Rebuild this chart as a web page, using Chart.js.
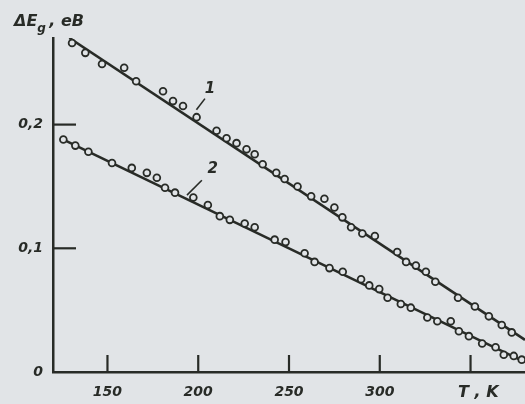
<!DOCTYPE html>
<html>
<head>
<meta charset="utf-8">
<script src="https://cdn.jsdelivr.net/npm/chart.js@4"></script>
<style>
html, body { margin: 0; padding: 0; background: #e1e4e7; }
</style>
</head>
<body>
<canvas id="myChart" width="525" height="404"></canvas>
<script>
// curve 1: measured points
const temps1 = [130.5, 137.8, 147, 159.2, 165.8, 180.6, 186.1, 191.6, 199.1, 210.1, 215.6, 221.1, 226.6, 231.1, 235.5,
    243, 247.6, 254.7, 262.2, 269.5, 275, 279.4, 284.2, 290.4, 297.3, 309.6, 314.5, 319.9, 325.4, 330.6,
    343.1, 352.4, 360.1, 367.2, 372.7];
const gap1 = [0.266, 0.258, 0.249, 0.246, 0.235, 0.227, 0.219, 0.215, 0.206, 0.195, 0.189, 0.185, 0.180, 0.176, 0.168,
    0.161, 0.156, 0.150, 0.142, 0.140, 0.133, 0.125, 0.117, 0.112, 0.110, 0.097, 0.089, 0.086, 0.081, 0.073,
    0.060, 0.053, 0.045, 0.038, 0.032];
// curve 2: measured points
const temps2 = [125.7, 132.3, 139.5, 152.5, 163.4, 171.7, 177.2, 181.7, 187.2, 197.3, 205.3, 211.9, 217.4, 225.6, 231.1,
    242.1, 248.1, 258.6, 264.1, 272.3, 279.6, 289.7, 294.2, 299.7, 304.3, 311.6, 317.1, 326.2, 331.7, 339.1,
    343.6, 349.1, 356.4, 363.8, 368.3, 373.8, 378.2];
const gap2 = [0.188, 0.183, 0.178, 0.169, 0.165, 0.161, 0.157, 0.149, 0.145, 0.141, 0.135, 0.126, 0.123, 0.120, 0.117,
    0.107, 0.105, 0.096, 0.089, 0.084, 0.081, 0.075, 0.070, 0.067, 0.060, 0.055, 0.052, 0.044, 0.041, 0.041,
    0.033, 0.029, 0.023, 0.020, 0.014, 0.013, 0.010];
// straight fits drawn through the points
const fitT1 = [129, 380];
const fitE1 = [0.270, 0.026];
const fitT2 = [124, 380];
const fitE2 = [0.189, 0.008];
// axes
const xTicks = [150, 200, 250, 300, 350];
const xTickLabels = ['150', '200', '250', '300', ''];
const yTicks = [0, 0.1, 0.2];
const yTickLabels = ['0', '0,1', '0,2'];
// curve numbers: [label, leader start T, leader start E, leader end T, leader end E, text T, text E]
const curveLabels = [
    ['1', 199, 0.212, 203.7, 0.221, 206.5, 0.229],
    ['2', 193.8, 0.143, 202, 0.155, 208, 0.164],
];

const ink = '#282b27';
const paper = '#e1e4e7';
const font = 'DejaVu Sans';

function toPoints(xs, ys) {
    return xs.map((x, i) => ({ x: x, y: ys[i] }));
}

const decorations = {
    id: 'decorations',
    afterDatasetsDraw(chart) {
        const ctx = chart.ctx;
        const x = chart.scales.x;
        const y = chart.scales.y;
        const area = chart.chartArea;
        ctx.save();
        ctx.strokeStyle = ink;
        ctx.fillStyle = ink;
        ctx.lineWidth = 2.2;
        // inward tick marks
        xTicks.forEach(v => {
            const px = x.getPixelForValue(v);
            ctx.beginPath();
            ctx.moveTo(px, area.bottom);
            ctx.lineTo(px, area.bottom - 17);
            ctx.stroke();
        });
        yTicks.slice(1).forEach(v => {
            const py = y.getPixelForValue(v);
            ctx.beginPath();
            ctx.moveTo(area.left, py);
            ctx.lineTo(area.left + 23, py);
            ctx.stroke();
        });
        // curve numbers with leaders
        ctx.lineWidth = 1.6;
        ctx.font = 'italic bold 15px "' + font + '"';
        ctx.textAlign = 'center';
        ctx.textBaseline = 'middle';
        curveLabels.forEach(l => {
            ctx.beginPath();
            ctx.moveTo(x.getPixelForValue(l[1]), y.getPixelForValue(l[2]));
            ctx.lineTo(x.getPixelForValue(l[3]), y.getPixelForValue(l[4]));
            ctx.stroke();
            ctx.fillText(l[0], x.getPixelForValue(l[5]), y.getPixelForValue(l[6]));
        });
        // axis titles
        ctx.textAlign = 'left';
        ctx.textBaseline = 'alphabetic';
        ctx.font = 'italic bold 16px "' + font + '"';
        ctx.fillText('\u0394E', 14, 26);
        const w = ctx.measureText('\u0394E').width;
        ctx.font = 'italic bold 12px "' + font + '"';
        ctx.fillText('g', 14 + w, 32);
        ctx.font = 'italic bold 16px "' + font + '"';
        ctx.fillText(', eB', 14 + w + 12, 26);
        ctx.fillText('T , K', 458, 397);
        ctx.restore();
    }
};

const ctx = document.getElementById('myChart').getContext('2d');
const myChart = new Chart(ctx, {
    type: 'scatter',
    data: {
        datasets: [{
            data: toPoints(temps1, gap1),
            pointRadius: 3.4,
            pointBorderWidth: 1.8,
            pointBorderColor: ink,
            pointBackgroundColor: paper,
            order: 0,
        }, {
            data: toPoints(temps2, gap2),
            pointRadius: 3.4,
            pointBorderWidth: 1.8,
            pointBorderColor: ink,
            pointBackgroundColor: paper,
            order: 0,
        }, {
            type: 'line',
            data: toPoints(fitT1, fitE1),
            borderColor: ink,
            borderWidth: 2.6,
            pointRadius: 0,
            order: 1,
        }, {
            type: 'line',
            data: toPoints(fitT2, fitE2),
            borderColor: ink,
            borderWidth: 2.6,
            pointRadius: 0,
            order: 1,
        }],
    },
    options: {
        responsive: false,
        animation: false,
        layout: { autoPadding: false, padding: { top: 38, right: 0, left: 0, bottom: 0 } },
        scales: {
            x: {
                type: 'linear',
                min: 120,
                max: 380,
                afterBuildTicks: scale => { scale.ticks = xTicks.map(v => ({ value: v })); },
                afterFit: scale => {
                    scale.height = 32;
                    scale.paddingLeft = 0;
                    scale.paddingRight = 0;
                },
                grid: { display: false, drawTicks: false },
                border: { display: true, color: ink, width: 2.5 },
                ticks: {
                    padding: 12,
                    color: ink,
                    font: { family: font, size: 14, style: 'italic', weight: 'bold' },
                    callback: (val, index) => xTickLabels[index],
                    maxRotation: 0,
                },
            },
            y: {
                type: 'linear',
                min: 0,
                max: 0.27,
                afterBuildTicks: scale => { scale.ticks = yTicks.map(v => ({ value: v })); },
                afterFit: scale => { scale.width = 53; },
                grid: { display: false, drawTicks: false },
                border: { display: true, color: ink, width: 2.5 },
                ticks: {
                    padding: 10,
                    color: ink,
                    font: { family: font, size: 14, style: 'italic', weight: 'bold' },
                    callback: (val, index) => yTickLabels[index],
                },
            },
        },
        plugins: {
            legend: { display: false },
            tooltip: { enabled: false },
        },
    },
    plugins: [decorations],
});
</script>
</body>
</html>
